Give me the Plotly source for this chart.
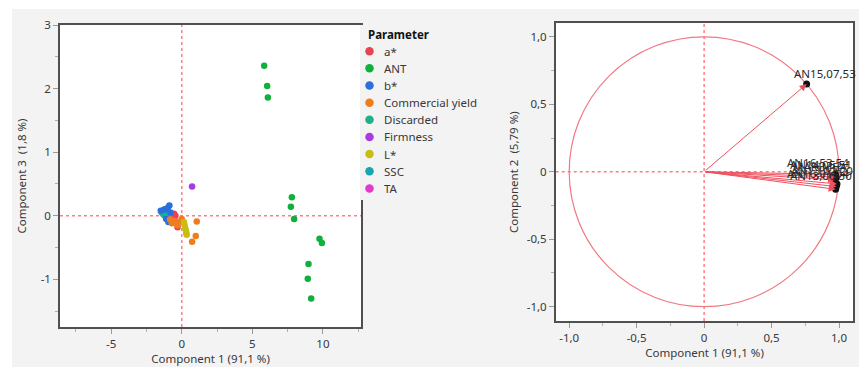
import plotly.graph_objects as go

# ---------------- Data: left panel (scores, Component 1 vs Component 3) ----------------
params = ["a*", "ANT", "b*", "Commercial yield", "Discarded", "Firmness", "L*", "SSC", "TA"]
colors = ["#e8434f", "#10b03c", "#2a6fdc", "#ef7d1e", "#1eaf8c", "#a53be0", "#c9bd14", "#14a6b1", "#e23bcb"]

a_x = [-0.6, -0.55, -0.45, -0.35, -0.3]
a_y = [-0.05, 0.03, 0.0, -0.1, -0.18]
ant_x = [5.84, 6.05, 6.10, 7.80, 7.73, 7.96, 9.76, 9.93, 8.98, 8.93, 9.17]
ant_y = [2.36, 2.04, 1.86, 0.29, 0.14, -0.05, -0.36, -0.43, -0.76, -0.99, -1.30]
b_x = [-0.88, -1.0, -1.2, -1.49, -0.95, -1.1, -0.8]
b_y = [0.16, 0.12, 0.10, 0.08, -0.10, -0.05, 0.05]
cy_x = [-0.83, -0.7, -0.6, -0.4, -0.3, -0.12, 0.0, 1.06, 0.99, 0.73]
cy_y = [-0.06, -0.12, -0.08, -0.10, -0.15, -0.09, -0.05, -0.09, -0.32, -0.41]
disc_x = [-1.42, -1.3, -1.25, -1.2, -1.1]
disc_y = [0.05, 0.08, 0.10, 0.0, -0.03]
firm_x = [0.73]
firm_y = [0.46]
l_x = [0.15, 0.2, 0.25, 0.3, 0.32, 0.35]
l_y = [-0.10, -0.15, -0.20, -0.24, -0.27, -0.30]
ssc_x = [-1.3, -1.15, -1.0]
ssc_y = [0.02, 0.06, 0.0]
ta_x = [-0.95]
ta_y = [0.02]
series_x = [a_x, ant_x, b_x, cy_x, disc_x, firm_x, l_x, ssc_x, ta_x]
series_y = [a_y, ant_y, b_y, cy_y, disc_y, firm_y, l_y, ssc_y, ta_y]
# drawing order (TA and SSC sit underneath the others in the cluster)
draw_order = [8, 7, 4, 0, 2, 3, 6, 5, 1]

left_xticks = [-5, 0, 5, 10]
left_xticktext = ["-5", "0", "5", "10"]
left_yticks = [3, 2, 1, 0, -1]
left_yticktext = ["3", "2", "1", "0", "-1"]

# ---------------- Data: right panel (loadings, Component 1 vs Component 2) ----------------
load_names = ["AN15,07,53", "AN16,53,54", "AN14,05,51", "MARIMBA", "AN13,02,20", "AN16,01,04", "AN13,06,30"]
load_c1 = [0.76, 0.975, 0.98, 0.97, 0.985, 0.98, 0.975]
load_c2 = [0.65, -0.02, -0.04, -0.06, -0.09, -0.11, -0.13]

right_ticks = [-1.0, -0.5, 0, 0.5, 1.0]
right_ticktext = ["-1,0", "-0,5", "0", "0,5", "1,0"]

# ---------------- Figure ----------------
W, H = 859, 367
FONT = "Noto Sans"
FS = 11.5
TXT = "#383838"
RED = "#f0505e"
REFRED = "#ff7c86"
GREY = "#f3f3f3"


def px_to_x(px):
    return px / W


def px_to_y(py):
    return 1 - py / H


fig = go.Figure()

for k in draw_order:
    fig.add_trace(go.Scatter(
        x=series_x[k], y=series_y[k], mode="markers", name=params[k],
        marker=dict(color=colors[k], size=6.5, line=dict(width=0)),
        xaxis="x", yaxis="y", showlegend=False,
    ))

fig.add_trace(go.Scatter(
    x=load_c1, y=load_c2, mode="markers", text=load_names,
    marker=dict(color="#111111", size=7),
    xaxis="x2", yaxis="y2", showlegend=False,
))

# Legend drawn on a hidden helper axis measured in pixels
LEG_X0, LEG_X1, LEG_Y0, LEG_Y1 = 360, 490, 25, 200
leg_marker_x = 369.5
leg_text_x = 381.5
leg_first_y = 51.2
leg_step = 17.15
leg_ys = [leg_first_y + i * leg_step for i in range(len(params))]
fig.add_trace(go.Scatter(
    x=[leg_marker_x] * len(params), y=leg_ys, mode="markers",
    marker=dict(color=colors, size=8.5, line=dict(width=0)),
    xaxis="x3", yaxis="y3", showlegend=False, hoverinfo="skip",
))

axis_common = dict(
    showline=True, mirror=True, linecolor="#505050", linewidth=1.5,
    ticks="outside", ticklen=5, tickcolor="#9a9a9a", tickwidth=1,
    showgrid=False, zeroline=False,
    tickfont=dict(family=FONT, size=FS, color=TXT),
    title_font=dict(family=FONT, size=FS, color=TXT),
)
minor_common = dict(tickmode="linear", tick0=0, ticks="outside", ticklen=3, tickcolor="#b0b0b0")

fig.update_layout(
    width=W, height=H,
    margin=dict(l=0, r=0, t=0, b=0),
    paper_bgcolor=GREY,
    plot_bgcolor=GREY,
    font=dict(family=FONT, size=FS, color=TXT),
    showlegend=False,
    xaxis=dict(
        domain=[px_to_x(60), px_to_x(361)], anchor="y",
        range=[-8.63, 12.7], tickmode="array", tickvals=left_xticks, ticktext=left_xticktext,
        minor=dict(dtick=2.5, **minor_common),
        title=dict(text="Component 1 (91,1 %)", standoff=3),
        automargin=False, **axis_common,
    ),
    yaxis=dict(
        domain=[px_to_y(327), px_to_y(25)], anchor="x",
        range=[-1.75, 3.0], tickmode="array", tickvals=left_yticks, ticktext=left_yticktext,
        minor=dict(dtick=0.5, **minor_common),
        title=dict(text="Component 3  (1,8 %)", standoff=12),
        automargin=False, **axis_common,
    ),
    xaxis2=dict(
        domain=[px_to_x(555.7), px_to_x(853.3)], anchor="y2",
        range=[-1.1, 1.106], tickmode="array", tickvals=right_ticks, ticktext=right_ticktext,
        minor=dict(dtick=0.25, **minor_common),
        title=dict(text="Component 1 (91,1 %)", standoff=3),
        automargin=False, **axis_common,
    ),
    yaxis2=dict(
        domain=[px_to_y(321), px_to_y(23.3)], anchor="x2",
        range=[-1.106, 1.1], tickmode="array", tickvals=right_ticks, ticktext=right_ticktext,
        minor=dict(dtick=0.25, **minor_common),
        title=dict(text="Component 2  (5,79 %)", standoff=6),
        automargin=False, **axis_common,
    ),
    xaxis3=dict(domain=[px_to_x(LEG_X0), px_to_x(LEG_X1)], range=[LEG_X0, LEG_X1],
                visible=False, anchor="y3", fixedrange=True),
    yaxis3=dict(domain=[px_to_y(LEG_Y1), px_to_y(LEG_Y0)], range=[LEG_Y1, LEG_Y0],
                visible=False, anchor="x3", fixedrange=True),
)

shapes = [
    # white margins around the grey panel area
    dict(type="rect", xref="paper", yref="paper", x0=0, x1=px_to_x(12), y0=0, y1=1,
         fillcolor="#ffffff", line=dict(width=0), layer="below"),
    dict(type="rect", xref="paper", yref="paper", x0=0, x1=1, y0=px_to_y(9), y1=1,
         fillcolor="#ffffff", line=dict(width=0), layer="below"),
    # white plotting areas
    dict(type="rect", xref="x domain", yref="y domain", x0=0, x1=1, y0=0, y1=1,
         fillcolor="#ffffff", line=dict(width=0), layer="below"),
    dict(type="rect", xref="x2 domain", yref="y2 domain", x0=0, x1=1, y0=0, y1=1,
         fillcolor="#ffffff", line=dict(width=0), layer="below"),
    # left reference lines
    dict(type="line", xref="x", yref="y domain", x0=0, x1=0, y0=0, y1=1,
         line=dict(color=REFRED, width=1.5, dash="dot"), layer="below"),
    dict(type="line", xref="x domain", yref="y", x0=0, x1=1, y0=0, y1=0,
         line=dict(color=REFRED, width=1.5, dash="dot"), layer="below"),
    # right reference lines
    dict(type="line", xref="x2", yref="y2 domain", x0=0, x1=0, y0=0, y1=1,
         line=dict(color=REFRED, width=1.5, dash="dot"), layer="below"),
    dict(type="line", xref="x2 domain", yref="y2", x0=0, x1=1, y0=0, y1=0,
         line=dict(color=REFRED, width=1.5, dash="dot"), layer="below"),
    # unit circle
    dict(type="circle", xref="x2", yref="y2", x0=-1, y0=-1, x1=1, y1=1,
         line=dict(color="#f27882", width=1.2), layer="below"),
]
fig.update_layout(shapes=shapes)

annotations = []
# legend title and entries
annotations.append(dict(xref="x3", yref="y3", x=366, y=34, text="<b>Parameter</b>", showarrow=False,
                        xanchor="left", yanchor="middle",
                        font=dict(family=FONT, size=FS, color="#111111")))
for name, yy in zip(params, leg_ys):
    annotations.append(dict(xref="x3", yref="y3", x=leg_text_x, y=yy, text=name, showarrow=False,
                            xanchor="left", yanchor="middle",
                            font=dict(family=FONT, size=FS, color=TXT)))
# loading vectors
for n, cx, cyv in zip(load_names, load_c1, load_c2):
    annotations.append(dict(
        xref="x2", yref="y2", axref="x2", ayref="y2",
        x=cx, y=cyv, ax=0, ay=0, text="", showarrow=True,
        arrowhead=2, arrowsize=1.4, arrowwidth=1, arrowcolor=RED,
    ))
# loading labels
for i, (n, cx, cyv) in enumerate(zip(load_names, load_c1, load_c2)):
    if i == 0:
        annotations.append(dict(xref="x2", yref="y2", x=cx, y=cyv, text=n, showarrow=False,
                                xanchor="left", yanchor="bottom", xshift=-15, yshift=1,
                                font=dict(family=FONT, size=FS, color="#2a2a2a")))
    else:
        annotations.append(dict(xref="x2", yref="y2", x=cx, y=cyv, text=n, showarrow=False,
                                xanchor="right", yanchor="middle", xshift=18 - (i % 2) * 3,
                                yshift=12 + i * 0.3,
                                font=dict(family=FONT, size=FS, color="#2a2a2a")))
fig.update_layout(annotations=annotations)

fig.write_html(
    "out.html",
    config={"displayModeBar": False},
    post_script="document.body.style.margin='0';document.body.style.overflow='hidden';",
)
